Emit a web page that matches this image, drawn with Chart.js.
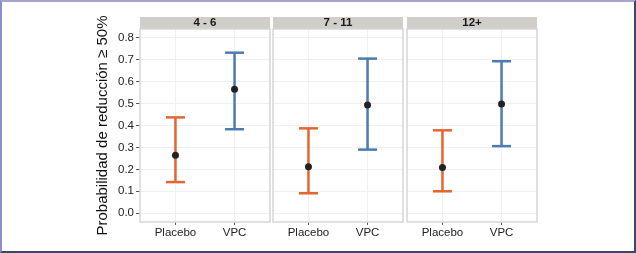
<!DOCTYPE html>
<html>
<head>
<meta charset="utf-8">
<script src="https://cdn.jsdelivr.net/npm/chart.js@4.4.0/dist/chart.umd.min.js"></script>
<style>
  html, body { margin: 0; padding: 0; background: #fff; }
  #wrap { position: relative; width: 636px; height: 253px; overflow: hidden; }
  #wrap canvas { position: absolute; top: 0; }
  #frame {
    position: absolute; left: 0; top: 0; width: 636px; height: 253px; box-sizing: border-box;
    border-style: solid; border-width: 2px 2px 2px 2px;
    border-color: #a4a4d4 #3b4770 #3b4770 #8e8ec6;
    pointer-events: none;
  }
</style>
</head>
<body>
<div id="wrap">
  <canvas id="c0" width="272" height="253" style="left:0px"></canvas>
  <canvas id="c1" width="134" height="253" style="left:271px"></canvas>
  <canvas id="c2" width="134" height="253" style="left:405px"></canvas>
  <div id="frame"></div>
</div>
<script>
// data
var groups = ['4 - 6', '7 - 11', '12+'];
var categories = ['Placebo', 'VPC'];
var placeboMean = [0.264, 0.212, 0.209];
var placeboLow = [0.142, 0.091, 0.100];
var placeboHigh = [0.437, 0.387, 0.378];
var vpcMean = [0.565, 0.493, 0.498];
var vpcLow = [0.383, 0.290, 0.306];
var vpcHigh = [0.732, 0.705, 0.693];
var yTicks = [0, 0.1, 0.2, 0.3, 0.4, 0.5, 0.6, 0.7, 0.8];

var orange = '#e5652e';
var blue = '#4b7bb0';
var font = 'Liberation Sans, Arial, sans-serif';

// gray strip behind the facet title, border round the panel
var facetPlugin = {
    id: 'facet',
    beforeDraw: function(chart) {
        var a = chart.chartArea, ctx = chart.ctx;
        ctx.save();
        ctx.fillStyle = '#d1cdc8';
        ctx.fillRect(a.left, a.top - 12, a.right - a.left, 12);
        ctx.restore();
    },
    afterDraw: function(chart) {
        var a = chart.chartArea, ctx = chart.ctx;
        ctx.save();
        ctx.strokeStyle = '#d6d6d6';
        ctx.lineWidth = 1.5;
        ctx.strokeRect(a.left, a.top, a.right - a.left, a.bottom - a.top);
        ctx.restore();
    }
};

function rangeSet(x, lo, hi, color) {
    return {
        data: [{x: x, y: lo}, {x: x, y: hi}],
        showLine: true,
        borderColor: color,
        borderWidth: 2.5,
        pointStyle: 'line',
        pointRadius: 9.5,
        pointBorderWidth: 2.5,
        pointBorderColor: color
    };
}

function makePanel(i) {
    var first = i === 0;
    new Chart(document.getElementById('c' + i), {
        type: 'scatter',
        data: {
            datasets: [
                {
                    data: [{x: 1, y: placeboMean[i]}, {x: 2, y: vpcMean[i]}],
                    pointRadius: 3.5,
                    backgroundColor: '#222',
                    borderWidth: 0
                },
                rangeSet(1, placeboLow[i], placeboHigh[i], orange),
                rangeSet(2, vpcLow[i], vpcHigh[i], blue)
            ]
        },
        options: {
            responsive: false,
            animation: false,
            devicePixelRatio: 1,
            layout: {
                autoPadding: false,
                padding: { left: first ? 0 : 2, right: 2, top: 17, bottom: 0 }
            },
            plugins: {
                legend: { display: false },
                tooltip: { enabled: false },
                title: {
                    display: true,
                    text: groups[i],
                    fullSize: false,
                    color: '#1a1a1a',
                    font: { family: font, size: 11.5, weight: 'bold', lineHeight: '12px' },
                    padding: 0
                }
            },
            scales: {
                x: {
                    type: 'linear',
                    min: 0.4,
                    max: 2.6,
                    afterBuildTicks: function(s) { s.ticks = [{value: 1}, {value: 2}]; },
                    afterFit: function(s) {
                        s.height = 31;
                        s.paddingLeft = 0;
                        s.paddingRight = 0;
                    },
                    border: { display: false },
                    grid: { color: '#f0f0f0', tickColor: '#555', tickLength: 3 },
                    ticks: {
                        padding: 1,
                        color: '#222',
                        font: { family: font, size: 11.5 },
                        callback: function(v) { return categories[v - 1]; }
                    }
                },
                y: {
                    min: -0.04,
                    max: 0.84,
                    afterBuildTicks: function(s) { s.ticks = yTicks.map(function(v) { return {value: v}; }); },
                    afterFit: function(s) { s.width = first ? 140 : 0; },
                    border: { display: false },
                    grid: { color: '#f0f0f0', tickColor: '#555', tickLength: 4, drawTicks: first },
                    ticks: {
                        display: first,
                        padding: 2,
                        color: '#222',
                        font: { family: font, size: 11.5 },
                        callback: function(v) { return v.toFixed(1); }
                    },
                    title: {
                        display: first,
                        text: 'Probabilidad de reducción ≥ 50%',
                        color: '#111',
                        font: { family: font, size: 15 },
                        padding: { top: 94, bottom: 0 }
                    }
                }
            }
        },
        plugins: [facetPlugin]
    });
}

for (var i = 0; i < groups.length; i++) {
    makePanel(i);
}
</script>
</body>
</html>
